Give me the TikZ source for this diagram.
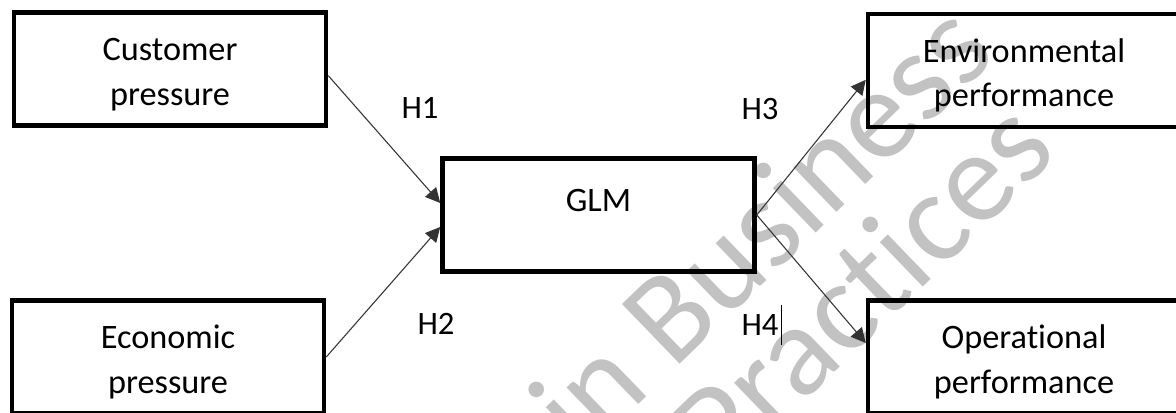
\documentclass[tikz,border=0pt]{standalone}
\usepackage{fontspec}
\setmainfont{Carlito}[Ligatures=NoCommon]
\usetikzlibrary{arrows.meta}

% invisible strut that pushes two-line labels down a little
\newcommand\toppad{\rule{0pt}{25pt}}

\tikzset{
    box/.style={draw, line width=3.4pt, minimum width=234pt, minimum height=85pt,
        align=center, font=\fontsize{25.7}{33.4}\selectfont},
    hyp/.style={inner sep=0pt, font=\fontsize{24.5}{28}\selectfont},
    link/.style={draw=black!80, line width=0.8pt, -{Triangle[length=11pt,width=11pt]}},
    wmark/.style={text=black!24, rotate=44, inner sep=0pt, font=\fontsize{97}{97}\selectfont},
}

\begin{document}
\begin{tikzpicture}[x=0.75pt, y=-0.75pt]
    \useasboundingbox (0,0) rectangle (1176,413);

    % faint lettering behind the model
    \node[wmark] (wm1) at (760,226) {in Business};
    \node[wmark] (wm2) at (861,286) {Practices};

    % drivers
    \node[box] (cust) at (170,69) {\toppad Customer\\pressure};
    \node[box] (econ) at (168,357) {\toppad Economic\\pressure};
    % mediator
    \node[box, text depth=22pt] (glm) at (598.5,215) {GLM};
    % outcomes
    \node[box] (env) at (1024,70.5) {\toppad Environmental\\performance};
    \node[box] (oper) at (1024,357) {\toppad Operational\\performance};

    \draw[link] ([yshift=-5pt]cust.east) -- ([yshift=9pt]glm.west);
    \draw[link] (econ.east) -- ([yshift=-9pt]glm.west);
    \draw[link] (glm.east) -- ([yshift=-7pt]env.west);
    \draw[link] (glm.east) -- ([yshift=10.5pt]oper.west);

    \node[hyp] (h1) at (420,108) {H1};
    \node[hyp] (h2) at (436,324) {H2};
    \node[hyp] (h3) at (760,109) {H3};
    \node[hyp] (h4) at (760,325) {H4};
    \draw[line width=0.7pt] ([xshift=2pt,yshift=15pt]h4.east) -- ([xshift=2pt,yshift=-15pt]h4.east);
\end{tikzpicture}
\end{document}
